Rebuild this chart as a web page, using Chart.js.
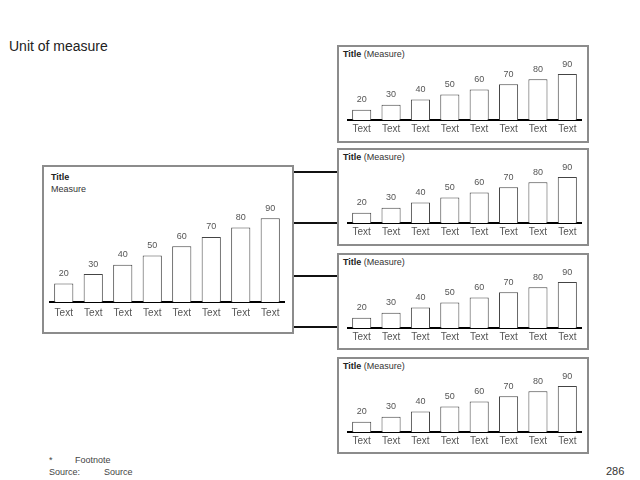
<!DOCTYPE html>
<html>
<head>
<meta charset="utf-8">
<script src="https://cdn.jsdelivr.net/npm/chart.js@4/dist/chart.umd.min.js"></script>
<style>
  body { margin: 0; background: #fff; font-family: "Liberation Sans", Arial, sans-serif; }
  #page { position: relative; width: 640px; height: 480px; overflow: hidden; }
  .abs { position: absolute; }
  .box { position: absolute; box-sizing: border-box; border: 2px solid #8c8c8c; }
  .line { position: absolute; background: #111; }
  .ttl { position: absolute; font-size: 9px; color: #333; white-space: nowrap; }
  .ttl b { color: #222; }
  .note { position: absolute; font-size: 9px; color: #444; white-space: nowrap; }
</style>
</head>
<body>
<div id="page">
  <div class="abs" style="left:9px; top:38px; font-size:14px; color:#222;">Unit of measure</div>

  <!-- connectors -->
  <div class="line" style="left:292px; top:171px; width:2px; height:157px;"></div>
  <div class="line" style="left:292px; top:171px; width:46px; height:2px;"></div>
  <div class="line" style="left:292px; top:222px; width:46px; height:2px;"></div>
  <div class="line" style="left:292px; top:275px; width:46px; height:2px;"></div>
  <div class="line" style="left:292px; top:326px; width:46px; height:2px;"></div>

  <!-- main panel -->
  <div class="box" style="left:42px; top:165px; width:252px; height:169px;"></div>
  <div class="ttl" style="left:51px; top:172px;"><b>Title</b></div>
  <div class="ttl" style="left:51px; top:184px;">Measure</div>
  <div class="abs" style="left:49px; top:189px; width:236px; height:135px;"><canvas id="main"></canvas></div>

  <div id="panels"></div>

  <div class="note" style="left:49px; top:455px;">*</div>
  <div class="note" style="left:75px; top:455px;">Footnote</div>
  <div class="note" style="left:49px; top:467px;">Source:</div>
  <div class="note" style="left:104px; top:467px;">Source</div>
  <div class="abs" style="left:606px; top:465px; font-size:11px; color:#333;">286</div>
</div>
<script>
const categories = ["Text", "Text", "Text", "Text", "Text", "Text", "Text", "Text"];
const mainValues = [20, 30, 40, 50, 60, 70, 80, 90];
const panelValues = [
  [20, 30, 40, 50, 60, 70, 80, 90],
  [20, 30, 40, 50, 60, 70, 80, 90],
  [20, 30, 40, 50, 60, 70, 80, 90],
  [20, 30, 40, 50, 60, 70, 80, 90]
];
const panelTitle = "Title";
const panelMeasure = "(Measure)";
const panelTops = [45, 148, 253, 357];

// value labels above the bars
const valueLabels = {
  id: "valueLabels",
  afterDatasetsDraw(chart) {
    const ctx = chart.ctx;
    const meta = chart.getDatasetMeta(0);
    ctx.save();
    ctx.font = "9px 'Liberation Sans', Arial, sans-serif";
    ctx.fillStyle = "#555";
    ctx.textAlign = "center";
    ctx.textBaseline = "middle";
    meta.data.forEach((bar, i) => {
      ctx.fillText(chart.data.datasets[0].data[i], bar.x, bar.y - 10);
    });
    ctx.restore();
  }
};

function makeChart(canvas, values, padTop, tickPad) {
  return new Chart(canvas, {
    type: "bar",
    data: {
      labels: categories,
      datasets: [{
        data: values,
        backgroundColor: "#ffffff",
        borderColor: "#444",
        borderWidth: 1,
        borderSkipped: "bottom",
        barPercentage: 0.65,
        categoryPercentage: 1.0
      }]
    },
    options: {
      responsive: true,
      maintainAspectRatio: false,
      animation: false,
      layout: { padding: { top: padTop, left: 0, right: 0, bottom: 0 } },
      plugins: { legend: { display: false }, tooltip: { enabled: false } },
      scales: {
        x: {
          offset: true,
          grid: { display: false, drawTicks: false },
          border: { display: true, color: "#000", width: 2 },
          ticks: { color: "#555", padding: tickPad, font: { size: 10, family: "'Liberation Sans', Arial, sans-serif" } }
        },
        y: { display: false, min: 0, max: 100 }
      }
    },
    plugins: [valueLabels]
  });
}

makeChart(document.getElementById("main"), mainValues, 20, 5);

const panels = document.getElementById("panels");
panelTops.forEach((top, k) => {
  const box = document.createElement("div");
  box.className = "box";
  box.style.cssText = "left:337px; top:" + top + "px; width:252px; height:" + (k < 2 ? 98 : 97) + "px;";
  panels.appendChild(box);

  const t = document.createElement("div");
  t.className = "ttl";
  t.style.cssText = "left:343px; top:" + (top + 4) + "px;";
  t.innerHTML = "<b>" + panelTitle + "</b> " + panelMeasure;
  panels.appendChild(t);

  // baseline sits about 76px below the top of the panel
  const baseline = top + 75;
  const wrap = document.createElement("div");
  wrap.className = "abs";
  wrap.style.cssText = "left:347px; top:" + (baseline - 51 - 14) + "px; width:235px; height:83px;";
  const c = document.createElement("canvas");
  wrap.appendChild(c);
  panels.appendChild(wrap);
  makeChart(c, panelValues[k], 14, 3);
});
</script>
</body>
</html>
